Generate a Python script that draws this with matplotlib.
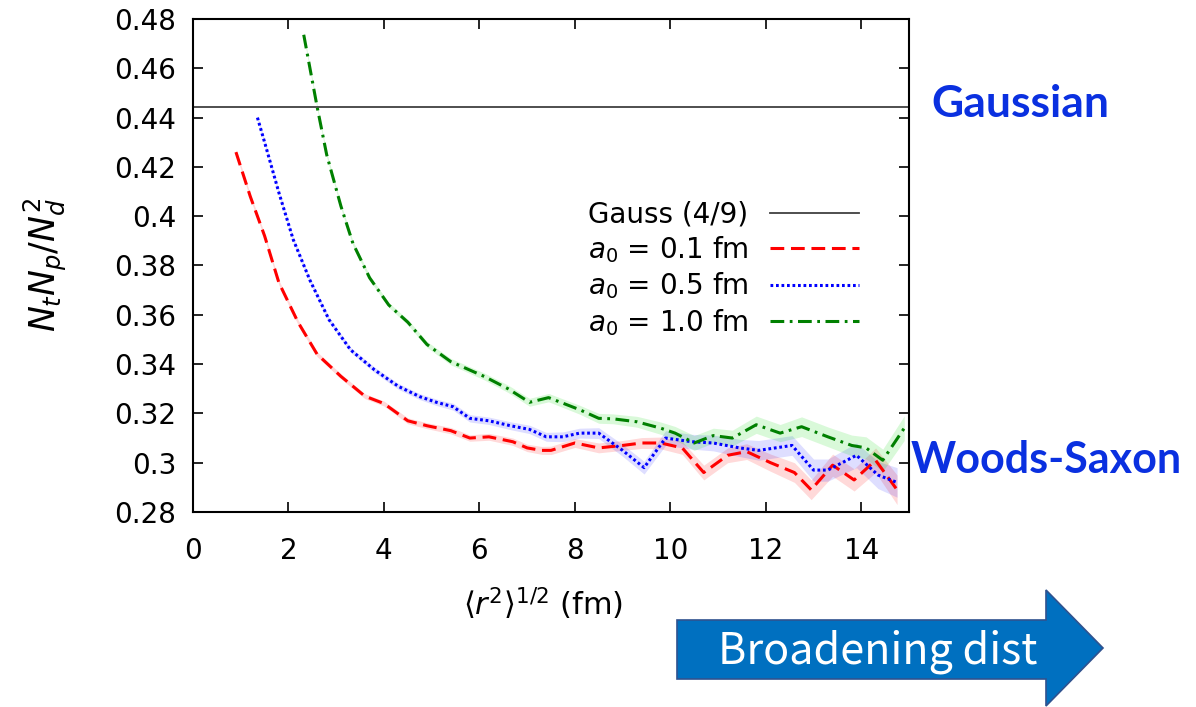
import numpy as np
import matplotlib
matplotlib.use("Agg")
import matplotlib.pyplot as plt
from matplotlib.patches import Polygon
from matplotlib.ticker import FuncFormatter

# values
gauss_val = 4 / 9

x_01 = [0.9, 1.2, 1.5, 1.8, 2.2, 2.6, 3.1, 3.6, 4.0, 4.5, 4.9, 5.4, 5.8, 6.2, 6.7, 7.0, 7.3,
        7.5, 8.0, 8.5, 9.0, 9.4, 9.8, 10.25, 10.7, 11.2, 11.6, 12.1, 12.6, 12.95, 13.4, 13.85,
        14.3, 14.75]
y_01 = [0.426, 0.408, 0.392, 0.373, 0.357, 0.344, 0.335, 0.327, 0.324, 0.317, 0.315, 0.313,
        0.310, 0.3105, 0.3085, 0.306, 0.305, 0.305, 0.308, 0.306, 0.307, 0.308, 0.308, 0.306,
        0.296, 0.303, 0.3045, 0.300, 0.296, 0.289, 0.299, 0.293, 0.301, 0.289]
e_01 = [0.001, 0.001, 0.001, 0.001, 0.001, 0.001, 0.001, 0.001, 0.001, 0.0012, 0.0012, 0.0013,
        0.0013, 0.0014, 0.0015, 0.0015, 0.0016, 0.0017, 0.0018, 0.002, 0.002, 0.0022, 0.0024,
        0.0026, 0.003, 0.003, 0.0032, 0.0035, 0.004, 0.004, 0.0045, 0.0045, 0.005, 0.006]

x_05 = [1.35, 1.5, 1.8, 2.1, 2.45, 2.85, 3.3, 3.8, 4.3, 4.75, 5.1, 5.45, 5.8, 6.2, 6.65, 7.05,
        7.4, 7.75, 8.1, 8.5, 9.0, 9.45, 9.9, 10.45, 10.9, 11.45, 11.85, 12.55, 13.0, 13.3, 13.9,
        14.35, 14.75]
y_05 = [0.440, 0.430, 0.4095, 0.3905, 0.374, 0.358, 0.3458, 0.3377, 0.331, 0.3268, 0.3245,
        0.3227, 0.318, 0.317, 0.315, 0.3135, 0.3105, 0.3105, 0.312, 0.312, 0.305, 0.298, 0.310,
        0.3085, 0.308, 0.306, 0.305, 0.307, 0.297, 0.297, 0.303, 0.295, 0.292]
e_05 = [0.001, 0.001, 0.001, 0.001, 0.001, 0.001, 0.001, 0.0011, 0.0012, 0.0012, 0.0013,
        0.0014, 0.0015, 0.0015, 0.0016, 0.0017, 0.0018, 0.002, 0.002, 0.0022, 0.0024, 0.0026,
        0.003, 0.003, 0.0032, 0.0035, 0.004, 0.004, 0.0045, 0.0045, 0.005, 0.0055, 0.006]

x_10 = [2.32, 2.6, 2.8, 3.1, 3.35, 3.7, 4.1, 4.5, 4.9, 5.4, 6.1, 6.6, 7.05, 7.45, 8.1, 8.5, 8.8,
        9.3, 9.8, 10.1, 10.5, 10.9, 11.3, 11.8, 12.3, 12.75, 13.3, 13.8, 14.1, 14.45, 14.9]
y_10 = [0.4736, 0.4444, 0.425, 0.404, 0.389, 0.375, 0.364, 0.357, 0.348, 0.341, 0.335, 0.330,
        0.3245, 0.3264, 0.3215, 0.318, 0.3178, 0.3166, 0.314, 0.312, 0.308, 0.311, 0.310,
        0.3154, 0.312, 0.3146, 0.3105, 0.307, 0.306, 0.301, 0.314]
e_10 = [0.001, 0.001, 0.001, 0.001, 0.001, 0.001, 0.001, 0.0011, 0.0012, 0.0013, 0.0014,
        0.0015, 0.0016, 0.0017, 0.0018, 0.002, 0.002, 0.0022, 0.0025, 0.0027, 0.003, 0.003,
        0.0032, 0.0035, 0.0035, 0.004, 0.004, 0.0042, 0.0045, 0.0045, 0.005]

labels = ['Gauss (4/9)', r'$a_0$ = 0.1 fm', r'$a_0$ = 0.5 fm', r'$a_0$ = 1.0 fm']

plt.rcParams['font.family'] = ['DejaVu Sans']
plt.rcParams['mathtext.fontset'] = 'dejavusans'

W, H = 1196, 707
fig = plt.figure(figsize=(W / 100, H / 100), dpi=100)
ax = fig.add_axes([193 / W, 1 - 512 / H, 716 / W, 493 / H])

series = [
    (x_01, y_01, e_01, 'red', (1, 0, 0, 0.15), (0, (4.5, 2.2))),
    (x_05, y_05, e_05, 'blue', (0, 0, 1, 0.13), (0, (0.9, 0.9))),
    (x_10, y_10, e_10, 'green', (0, 0.85, 0, 0.15), (0, (4.5, 1.8, 0.9, 1.8))),
]

gl, = ax.plot([0, 15], [gauss_val, gauss_val], color='#404040', lw=1.3)
handles = [gl]
for xs, ys, es, c, fc, ls in series:
    xs, ys, es = np.array(xs), np.array(ys), np.array(es)
    ax.fill_between(xs, ys - es, ys + es, color=fc, lw=0)
for xs, ys, es, c, fc, ls in series:
    h, = ax.plot(xs, ys, color=c, lw=2.2, linestyle=ls)
    handles.append(h)

ax.set_xlim(0, 15)
ax.set_ylim(0.28, 0.48)
ax.set_xticks(np.arange(0, 15, 2))
ax.set_yticks(np.arange(0.28, 0.4801, 0.02))
ax.yaxis.set_major_formatter(FuncFormatter(lambda v, p: '%g' % round(v, 2)))
ax.tick_params(direction='in', length=7, width=1.2, top=True, right=True, labelsize=20)
ax.tick_params(axis='x', pad=18)
ax.tick_params(axis='y', pad=12)
for s in ax.spines.values():
    s.set_linewidth(1.5)

ax.legend(handles, labels, loc='upper right', bbox_to_anchor=(0.95, 0.66), frameon=False,
          markerfirst=False, fontsize=20, handlelength=3.2, handletextpad=0.8,
          labelspacing=0.2, borderpad=0)

fig.text(45 / W, 1 - 265 / H, r'$N_t N_p / N_d^2$', rotation=90, ha='center', va='center',
         fontsize=25)
fig.text(543 / W, 1 - 604 / H, r'$\langle r^2\rangle^{1/2}$ (fm)', ha='center', va='center',
         fontsize=22)

blue_txt = '#0a30e0'
fig.text(1020 / W, 1 - 104 / H, 'Gaussian', color=blue_txt, fontsize=32, fontweight='bold',
         family=['Lato', 'DejaVu Sans'], ha='center', va='center')
fig.text(1046 / W, 1 - 460 / H, 'Woods-Saxon', color=blue_txt, fontsize=31, fontweight='bold',
         family=['Lato', 'DejaVu Sans'], ha='center', va='center')

# the "Broadening dist" arrow below the plot
arrow_px = [(677, 620), (1046, 620), (1046, 590), (1103, 648), (1046, 706), (1046, 679),
            (677, 679)]
arrow = Polygon([(px / W, 1 - py / H) for px, py in arrow_px], closed=True,
                transform=fig.transFigure, facecolor='#0070c0', edgecolor='#2f528f', lw=1.2)
fig.patches.append(arrow)
fig.text(878 / W, 1 - 652 / H, 'Broadening dist', color='white', fontsize=31,
         fontweight='light', family=['Noto Sans CJK SC', 'DejaVu Sans'], ha='center',
         va='center')

fig.savefig('out.png', dpi=100)
